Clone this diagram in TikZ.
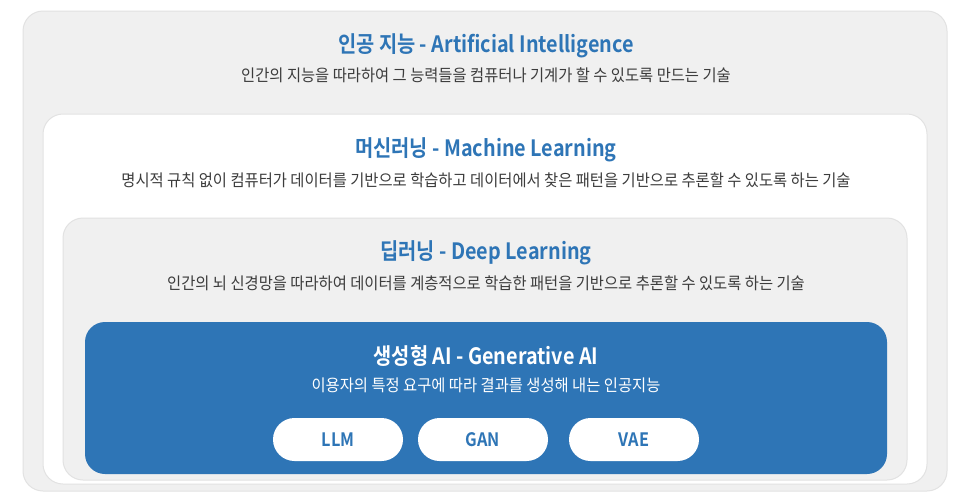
\documentclass[tikz,border=0pt]{standalone}
\usepackage{fontspec}
\setmainfont{Noto Sans CJK KR}
\newfontfamily\titlefont[FakeStretch=0.88]{Noto Sans CJK KR Bold}
\newfontfamily\subfont[FakeStretch=0.93]{Noto Sans CJK KR}
\definecolor{mainblue}{RGB}{46,117,182}
\definecolor{boxgray}{RGB}{240,240,240}
\definecolor{edgegray}{RGB}{226,226,226}
\definecolor{subgray}{RGB}{60,60,60}
\begin{document}
\begin{tikzpicture}[x=1pt,y=-1pt,
  layerbox/.style={draw=edgegray, line width=1pt, rounded corners=20pt},
  ttl/.style={inner sep=0pt, font=\titlefont\fontsize{22.5}{26}\selectfont, text=mainblue},
  sub/.style={inner sep=0pt, font=\subfont\fontsize{16.5}{19}\selectfont, text=subgray},
  pill/.style={fill=white, rounded corners=21.5pt, minimum width=130pt, minimum height=43pt, inner sep=0pt,
    font=\titlefont\fontsize{18.5}{20}\selectfont, text=mainblue}]
\useasboundingbox (0,0) rectangle (966,499);
\fill[white] (0,0) rectangle (966,499);
% layers
\draw[layerbox, fill=boxgray] (23,11) rectangle (947,491);
\draw[layerbox, fill=white] (43,114) rectangle (927,484);
\draw[layerbox, fill=boxgray] (63,218) rectangle (907,480);
\fill[mainblue, rounded corners=20pt] (85,322) rectangle (887,474);
% texts
\node[ttl] (aiT) at (486,45.5) {인공 지능 - Artificial Intelligence};
\node[sub] (aiS) at (486,75) {인간의 지능을 따라하여 그 능력들을 컴퓨터나 기계가 할 수 있도록 만드는 기술};
\node[ttl] (mlT) at (486,149.5) {머신러닝 - Machine Learning};
\node[sub] (mlS) at (486,180) {명시적 규칙 없이 컴퓨터가 데이터를 기반으로 학습하고 데이터에서 찾은 패턴을 기반으로 추론할 수 있도록 하는 기술};
\node[ttl] (dlT) at (486,253) {딥러닝 - Deep Learning};
\node[sub] (dlS) at (486,283) {인간의 뇌 신경망을 따라하여 데이터를 계층적으로 학습한 패턴을 기반으로 추론할 수 있도록 하는 기술};
\node[ttl, text=white] (gaT) at (486,355.5) {생성형 AI - Generative AI};
\node[sub, text=white] (gaS) at (486,385) {이용자의 특정 요구에 따라 결과를 생성해 내는 인공지능};
% pills
\node[pill] (llm) at (338,439.5) {LLM};
\node[pill] (gan) at (483,439.5) {GAN};
\node[pill] (vae) at (634,439.5) {VAE};
\end{tikzpicture}
\end{document}
